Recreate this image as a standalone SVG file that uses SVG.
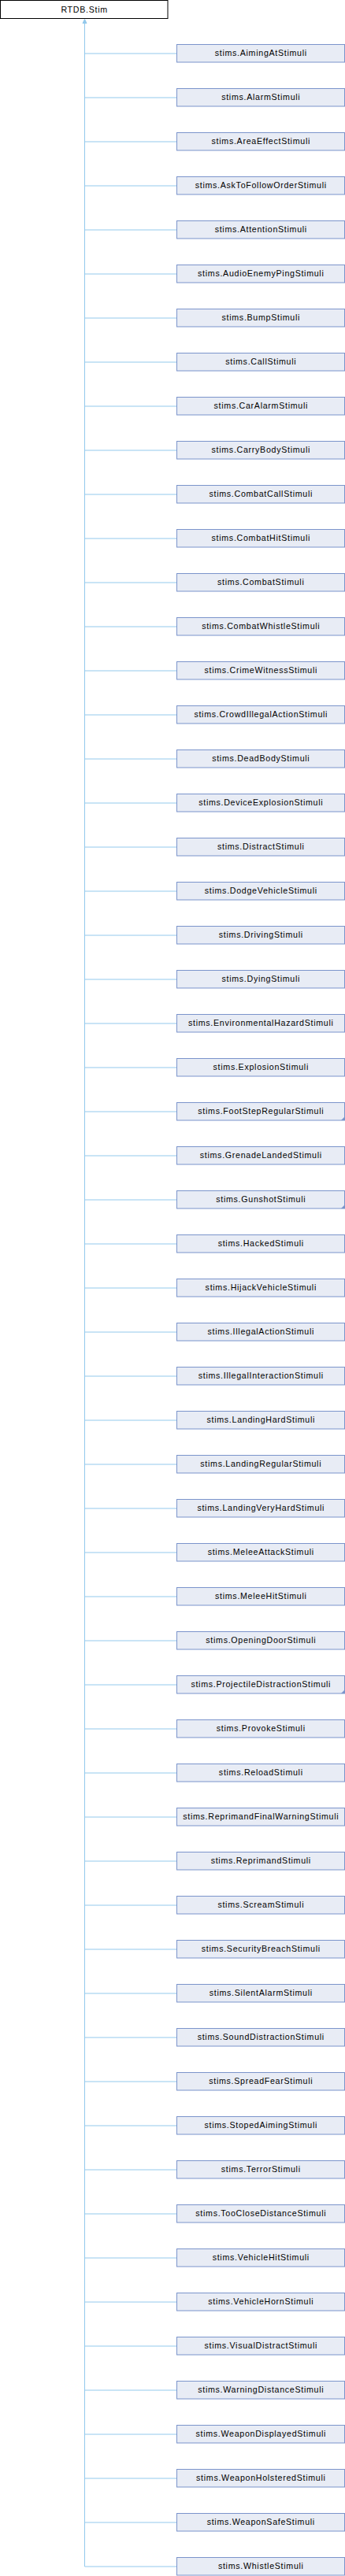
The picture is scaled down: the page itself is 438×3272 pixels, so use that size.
<svg xmlns="http://www.w3.org/2000/svg" width="438" height="3272" viewBox="0 0 438 3272">
<style>
.n rect{fill:#e8ecf5;stroke:#7b94cb;stroke-width:1}
.n text,.r text{font-family:"Liberation Sans",Arial,sans-serif;font-size:10.67px;letter-spacing:0.7px;fill:#000;text-anchor:middle}
.r rect{fill:#fff;stroke:#000;stroke-width:1}
.c{fill:none;stroke:#93c9ec;stroke-width:1}
.f{fill:#7b94cb}
</style>
<g id="connectors">
<path class="c" d="M107.5 29V3260M107.5 68H224.5M107.5 124H224.5M107.5 180H224.5M107.5 236H224.5M107.5 292H224.5M107.5 348H224.5M107.5 404H224.5M107.5 460H224.5M107.5 516H224.5M107.5 572H224.5M107.5 628H224.5M107.5 684H224.5M107.5 740H224.5M107.5 796H224.5M107.5 852H224.5M107.5 908H224.5M107.5 964H224.5M107.5 1020H224.5M107.5 1076H224.5M107.5 1132H224.5M107.5 1188H224.5M107.5 1244H224.5M107.5 1300H224.5M107.5 1356H224.5M107.5 1412H224.5M107.5 1468H224.5M107.5 1524H224.5M107.5 1580H224.5M107.5 1636H224.5M107.5 1692H224.5M107.5 1748H224.5M107.5 1804H224.5M107.5 1860H224.5M107.5 1916H224.5M107.5 1972H224.5M107.5 2028H224.5M107.5 2084H224.5M107.5 2140H224.5M107.5 2196H224.5M107.5 2252H224.5M107.5 2308H224.5M107.5 2364H224.5M107.5 2420H224.5M107.5 2476H224.5M107.5 2532H224.5M107.5 2588H224.5M107.5 2644H224.5M107.5 2700H224.5M107.5 2756H224.5M107.5 2812H224.5M107.5 2868H224.5M107.5 2924H224.5M107.5 2980H224.5M107.5 3036H224.5M107.5 3092H224.5M107.5 3148H224.5M107.5 3204H224.5M107.5 3260H224.5"/>
<polygon points="107.5,24.5 105,29.5 110,29.5" fill="#93c9ec" stroke="#93c9ec" stroke-width="1"/>
</g>
<g id="root" class="r"><rect x="0.5" y="0.5" width="212.5" height="23"/><text x="107.1" y="15.5">RTDB.Stim</text></g>
<g id="n0" class="n" transform="translate(0,0)"><rect x="224.5" y="56.5" width="213" height="22.5"/><text x="331.3" y="71">stims.AimingAtStimuli</text></g>
<g id="n1" class="n" transform="translate(0,56)"><rect x="224.5" y="56.5" width="213" height="22.5"/><text x="331.3" y="71">stims.AlarmStimuli</text></g>
<g id="n2" class="n" transform="translate(0,112)"><rect x="224.5" y="56.5" width="213" height="22.5"/><text x="331.3" y="71">stims.AreaEffectStimuli</text></g>
<g id="n3" class="n" transform="translate(0,168)"><rect x="224.5" y="56.5" width="213" height="22.5"/><text x="331.3" y="71">stims.AskToFollowOrderStimuli</text></g>
<g id="n4" class="n" transform="translate(0,224)"><rect x="224.5" y="56.5" width="213" height="22.5"/><text x="331.3" y="71">stims.AttentionStimuli</text></g>
<g id="n5" class="n" transform="translate(0,280)"><rect x="224.5" y="56.5" width="213" height="22.5"/><text x="331.3" y="71">stims.AudioEnemyPingStimuli</text></g>
<g id="n6" class="n" transform="translate(0,336)"><rect x="224.5" y="56.5" width="213" height="22.5"/><text x="331.3" y="71">stims.BumpStimuli</text></g>
<g id="n7" class="n" transform="translate(0,392)"><rect x="224.5" y="56.5" width="213" height="22.5"/><text x="331.3" y="71">stims.CallStimuli</text></g>
<g id="n8" class="n" transform="translate(0,448)"><rect x="224.5" y="56.5" width="213" height="22.5"/><text x="331.3" y="71">stims.CarAlarmStimuli</text></g>
<g id="n9" class="n" transform="translate(0,504)"><rect x="224.5" y="56.5" width="213" height="22.5"/><text x="331.3" y="71">stims.CarryBodyStimuli</text></g>
<g id="n10" class="n" transform="translate(0,560)"><rect x="224.5" y="56.5" width="213" height="22.5"/><text x="331.3" y="71">stims.CombatCallStimuli</text></g>
<g id="n11" class="n" transform="translate(0,616)"><rect x="224.5" y="56.5" width="213" height="22.5"/><text x="331.3" y="71">stims.CombatHitStimuli</text></g>
<g id="n12" class="n" transform="translate(0,672)"><rect x="224.5" y="56.5" width="213" height="22.5"/><text x="331.3" y="71">stims.CombatStimuli</text></g>
<g id="n13" class="n" transform="translate(0,728)"><rect x="224.5" y="56.5" width="213" height="22.5"/><text x="331.3" y="71">stims.CombatWhistleStimuli</text></g>
<g id="n14" class="n" transform="translate(0,784)"><rect x="224.5" y="56.5" width="213" height="22.5"/><text x="331.3" y="71">stims.CrimeWitnessStimuli</text></g>
<g id="n15" class="n" transform="translate(0,840)"><rect x="224.5" y="56.5" width="213" height="22.5"/><text x="331.3" y="71">stims.CrowdIllegalActionStimuli</text></g>
<g id="n16" class="n" transform="translate(0,896)"><rect x="224.5" y="56.5" width="213" height="22.5"/><text x="331.3" y="71">stims.DeadBodyStimuli</text></g>
<g id="n17" class="n" transform="translate(0,952)"><rect x="224.5" y="56.5" width="213" height="22.5"/><text x="331.3" y="71">stims.DeviceExplosionStimuli</text></g>
<g id="n18" class="n" transform="translate(0,1008)"><rect x="224.5" y="56.5" width="213" height="22.5"/><text x="331.3" y="71">stims.DistractStimuli</text></g>
<g id="n19" class="n" transform="translate(0,1064)"><rect x="224.5" y="56.5" width="213" height="22.5"/><text x="331.3" y="71">stims.DodgeVehicleStimuli</text></g>
<g id="n20" class="n" transform="translate(0,1120)"><rect x="224.5" y="56.5" width="213" height="22.5"/><text x="331.3" y="71">stims.DrivingStimuli</text></g>
<g id="n21" class="n" transform="translate(0,1176)"><rect x="224.5" y="56.5" width="213" height="22.5"/><text x="331.3" y="71">stims.DyingStimuli</text></g>
<g id="n22" class="n" transform="translate(0,1232)"><rect x="224.5" y="56.5" width="213" height="22.5"/><text x="331.3" y="71">stims.EnvironmentalHazardStimuli</text></g>
<g id="n23" class="n" transform="translate(0,1288)"><rect x="224.5" y="56.5" width="213" height="22.5"/><text x="331.3" y="71">stims.ExplosionStimuli</text></g>
<g id="n24" class="n" transform="translate(0,1344)"><rect x="224.5" y="56.5" width="213" height="22.5"/><polygon class="f" points="437.5,74.5 437.5,79 433,79"/><text x="331.3" y="71">stims.FootStepRegularStimuli</text></g>
<g id="n25" class="n" transform="translate(0,1400)"><rect x="224.5" y="56.5" width="213" height="22.5"/><text x="331.3" y="71">stims.GrenadeLandedStimuli</text></g>
<g id="n26" class="n" transform="translate(0,1456)"><rect x="224.5" y="56.5" width="213" height="22.5"/><polygon class="f" points="437.5,74.5 437.5,79 433,79"/><text x="331.3" y="71">stims.GunshotStimuli</text></g>
<g id="n27" class="n" transform="translate(0,1512)"><rect x="224.5" y="56.5" width="213" height="22.5"/><text x="331.3" y="71">stims.HackedStimuli</text></g>
<g id="n28" class="n" transform="translate(0,1568)"><rect x="224.5" y="56.5" width="213" height="22.5"/><text x="331.3" y="71">stims.HijackVehicleStimuli</text></g>
<g id="n29" class="n" transform="translate(0,1624)"><rect x="224.5" y="56.5" width="213" height="22.5"/><text x="331.3" y="71">stims.IllegalActionStimuli</text></g>
<g id="n30" class="n" transform="translate(0,1680)"><rect x="224.5" y="56.5" width="213" height="22.5"/><text x="331.3" y="71">stims.IllegalInteractionStimuli</text></g>
<g id="n31" class="n" transform="translate(0,1736)"><rect x="224.5" y="56.5" width="213" height="22.5"/><text x="331.3" y="71">stims.LandingHardStimuli</text></g>
<g id="n32" class="n" transform="translate(0,1792)"><rect x="224.5" y="56.5" width="213" height="22.5"/><text x="331.3" y="71">stims.LandingRegularStimuli</text></g>
<g id="n33" class="n" transform="translate(0,1848)"><rect x="224.5" y="56.5" width="213" height="22.5"/><text x="331.3" y="71">stims.LandingVeryHardStimuli</text></g>
<g id="n34" class="n" transform="translate(0,1904)"><rect x="224.5" y="56.5" width="213" height="22.5"/><text x="331.3" y="71">stims.MeleeAttackStimuli</text></g>
<g id="n35" class="n" transform="translate(0,1960)"><rect x="224.5" y="56.5" width="213" height="22.5"/><text x="331.3" y="71">stims.MeleeHitStimuli</text></g>
<g id="n36" class="n" transform="translate(0,2016)"><rect x="224.5" y="56.5" width="213" height="22.5"/><text x="331.3" y="71">stims.OpeningDoorStimuli</text></g>
<g id="n37" class="n" transform="translate(0,2072)"><rect x="224.5" y="56.5" width="213" height="22.5"/><polygon class="f" points="437.5,74.5 437.5,79 433,79"/><text x="331.3" y="71">stims.ProjectileDistractionStimuli</text></g>
<g id="n38" class="n" transform="translate(0,2128)"><rect x="224.5" y="56.5" width="213" height="22.5"/><text x="331.3" y="71">stims.ProvokeStimuli</text></g>
<g id="n39" class="n" transform="translate(0,2184)"><rect x="224.5" y="56.5" width="213" height="22.5"/><text x="331.3" y="71">stims.ReloadStimuli</text></g>
<g id="n40" class="n" transform="translate(0,2240)"><rect x="224.5" y="56.5" width="213" height="22.5"/><text x="331.3" y="71">stims.ReprimandFinalWarningStimuli</text></g>
<g id="n41" class="n" transform="translate(0,2296)"><rect x="224.5" y="56.5" width="213" height="22.5"/><text x="331.3" y="71">stims.ReprimandStimuli</text></g>
<g id="n42" class="n" transform="translate(0,2352)"><rect x="224.5" y="56.5" width="213" height="22.5"/><text x="331.3" y="71">stims.ScreamStimuli</text></g>
<g id="n43" class="n" transform="translate(0,2408)"><rect x="224.5" y="56.5" width="213" height="22.5"/><text x="331.3" y="71">stims.SecurityBreachStimuli</text></g>
<g id="n44" class="n" transform="translate(0,2464)"><rect x="224.5" y="56.5" width="213" height="22.5"/><text x="331.3" y="71">stims.SilentAlarmStimuli</text></g>
<g id="n45" class="n" transform="translate(0,2520)"><rect x="224.5" y="56.5" width="213" height="22.5"/><text x="331.3" y="71">stims.SoundDistractionStimuli</text></g>
<g id="n46" class="n" transform="translate(0,2576)"><rect x="224.5" y="56.5" width="213" height="22.5"/><text x="331.3" y="71">stims.SpreadFearStimuli</text></g>
<g id="n47" class="n" transform="translate(0,2632)"><rect x="224.5" y="56.5" width="213" height="22.5"/><text x="331.3" y="71">stims.StopedAimingStimuli</text></g>
<g id="n48" class="n" transform="translate(0,2688)"><rect x="224.5" y="56.5" width="213" height="22.5"/><text x="331.3" y="71">stims.TerrorStimuli</text></g>
<g id="n49" class="n" transform="translate(0,2744)"><rect x="224.5" y="56.5" width="213" height="22.5"/><text x="331.3" y="71">stims.TooCloseDistanceStimuli</text></g>
<g id="n50" class="n" transform="translate(0,2800)"><rect x="224.5" y="56.5" width="213" height="22.5"/><text x="331.3" y="71">stims.VehicleHitStimuli</text></g>
<g id="n51" class="n" transform="translate(0,2856)"><rect x="224.5" y="56.5" width="213" height="22.5"/><text x="331.3" y="71">stims.VehicleHornStimuli</text></g>
<g id="n52" class="n" transform="translate(0,2912)"><rect x="224.5" y="56.5" width="213" height="22.5"/><text x="331.3" y="71">stims.VisualDistractStimuli</text></g>
<g id="n53" class="n" transform="translate(0,2968)"><rect x="224.5" y="56.5" width="213" height="22.5"/><text x="331.3" y="71">stims.WarningDistanceStimuli</text></g>
<g id="n54" class="n" transform="translate(0,3024)"><rect x="224.5" y="56.5" width="213" height="22.5"/><text x="331.3" y="71">stims.WeaponDisplayedStimuli</text></g>
<g id="n55" class="n" transform="translate(0,3080)"><rect x="224.5" y="56.5" width="213" height="22.5"/><text x="331.3" y="71">stims.WeaponHolsteredStimuli</text></g>
<g id="n56" class="n" transform="translate(0,3136)"><rect x="224.5" y="56.5" width="213" height="22.5"/><text x="331.3" y="71">stims.WeaponSafeStimuli</text></g>
<g id="n57" class="n" transform="translate(0,3192)"><rect x="224.5" y="56.5" width="213" height="22.5"/><text x="331.3" y="71">stims.WhistleStimuli</text></g>
</svg>
